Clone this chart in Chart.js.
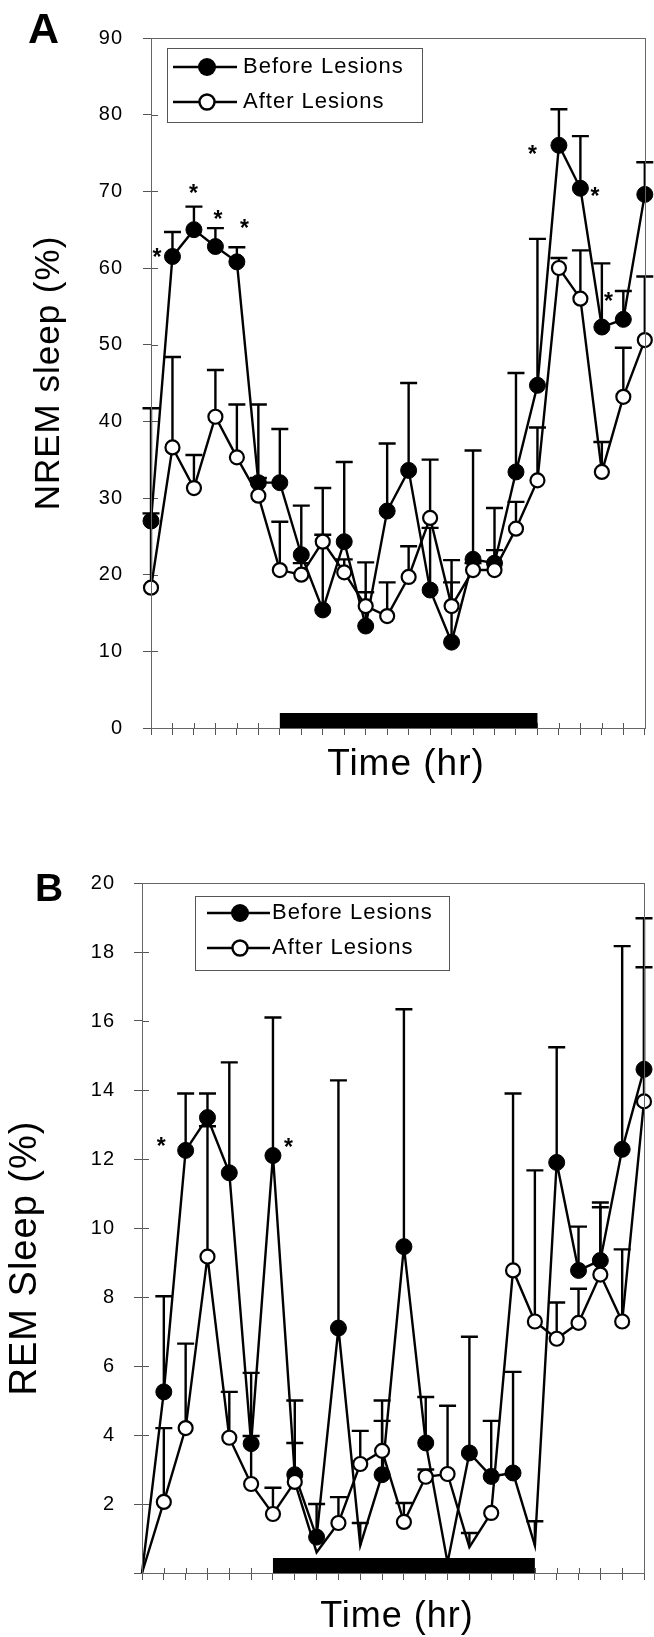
<!DOCTYPE html>
<html>
<head>
<meta charset="utf-8">
<script src="https://cdn.jsdelivr.net/npm/chart.js@4.4.1/dist/chart.umd.min.js"></script>
<style>
  html, body { margin: 0; padding: 0; background: #fff; }
  #wrap { position: relative; width: 654px; height: 1637px; }
  canvas { position: absolute; left: 0; }
  #chartA { top: 0; }
  #chartB { top: 800px; }
</style>
</head>
<body>
<div id="wrap">
  <canvas id="chartA" width="654" height="800"></canvas>
  <canvas id="chartB" width="654" height="837"></canvas>
</div>
<script>
// time points (hr)
const hours = [0, 1, 2, 3, 4, 5, 6, 7, 8, 9, 10, 11, 12, 13, 14, 15, 16, 17, 18, 19, 20, 21, 22, 23];
const darkPeriod = [6, 18];

// A - NREM sleep (%)
const nremBefore = [27, 61.5, 65, 62.8, 60.8, 32, 32, 22.6, 15.4, 24.3, 13.3, 28.3, 33.6, 18, 11.2, 22, 21.5, 33.4, 44.7, 76, 70.4, 52.3, 53.3, 69.6];
const nremAfter = [18.3, 36.6, 31.3, 40.6, 35.3, 30.3, 20.6, 20, 24.3, 20.3, 15.9, 14.6, 19.7, 27.4, 15.9, 20.6, 20.6, 26, 32.3, 60, 56, 33.4, 43.2, 50.6];
// upper end of the SEM bars
const nremBeforeErr = [28, 64.7, 68, 65.2, 62.7, 42.2, 39, 29, 31.3, 34.7, 17.7, 37.1, 45, 26.1, 19, 36.2, 23.2, 46.3, 63.8, 80.7, 77.2, 60.6, 57, 73.8];
const nremAfterErr = [41.7, 48.4, 35.6, 46.7, 42.2, 32.6, 26.9, 21.5, 25.2, 22, 21.6, 19, 23.7, 35, 21.9, 21.5, 28.7, 29.5, 39.2, 61.3, 62.3, 37.3, 49.6, 58.9];
const nremStars = [1, 2, 3, 4, 19, 20, 21];

// B - REM sleep (%)
const remBefore = [0, 5.25, 12.25, 13.2, 11.6, 3.75, 12.1, 2.85, 1.04, 7.1, 0.8, 2.85, 9.46, 3.77, 0.3, 3.48, 2.8, 2.9, 0.8, 11.9, 8.77, 9.06, 12.28, 14.6];
const remAfter = [0, 2.06, 4.2, 9.17, 3.92, 2.58, 1.71, 2.64, 0.6, 1.45, 3.16, 3.54, 1.48, 2.79, 2.87, 0.75, 1.74, 8.77, 7.29, 6.79, 7.25, 8.65, 7.29, 13.67];
const remBeforeErr = [null, 8.02, 13.9, 13.9, 14.8, 5.8, 16.1, 5.0, 2.0, 14.28, 1.45, 4.41, 16.34, 5.1, null, 6.85, 4.41, 5.83, 1.5, 15.24, 10.04, 10.74, 18.17, 18.98];
const remAfterErr = [null, 4.2, 6.65, 12.95, 5.25, 3.97, 2.47, 3.77, null, 2.2, 4.12, 5.0, 2.03, 3.0, 4.85, 1.16, null, 13.9, 11.67, 7.84, 8.24, 10.6, 9.38, 17.56];
const remStars = [2, 6];

// points drawn without a marker in B (line only)
const noMarkBefore = [0, 10, 14, 18];
const noMarkAfter = [0, 8, 15];

Chart.defaults.font.family = "'Liberation Sans', Arial, sans-serif";
Chart.defaults.color = '#000';

const FONT = "'Liberation Sans', Arial, sans-serif";

const panelPlugin = {
  id: 'panel',
  beforeDraw(chart) {
    chart.ctx.letterSpacing = '1px';
  },
  beforeDatasetsDraw(chart, args, opts) {
    const { ctx, chartArea: a, scales: { x, y } } = chart;
    ctx.save();
    // inner halves of the tick marks
    ctx.strokeStyle = '#555';
    ctx.lineWidth = 1;
    ctx.beginPath();
    x.ticks.forEach(t => {
      const px = Math.round(x.getPixelForValue(t.value)) + 0.5;
      ctx.moveTo(px, a.bottom); ctx.lineTo(px, a.bottom - 5);
    });
    y.ticks.forEach(t => {
      const py = Math.round(y.getPixelForValue(t.value)) + 0.5;
      ctx.moveTo(a.left, py); ctx.lineTo(a.left + 7, py);
    });
    ctx.stroke();

    // dark phase bar
    const x0 = x.getPixelForValue(darkPeriod[0]);
    const x1 = x.getPixelForValue(darkPeriod[1]);
    ctx.fillStyle = '#000';
    ctx.fillRect(x0, a.bottom - 15, x1 - x0, 15);

    // error bars (upper only)
    ctx.strokeStyle = '#000';
    ctx.lineWidth = 2.4;
    chart.data.datasets.forEach((ds, di) => {
      const meta = chart.getDatasetMeta(di);
      ds.errUp.forEach((e, i) => {
        if (e == null) return;
        const p = meta.data[i];
        const yt = y.getPixelForValue(e);
        ctx.beginPath();
        ctx.moveTo(p.x, p.y);
        ctx.lineTo(p.x, yt);
        ctx.moveTo(p.x - 8.5, yt);
        ctx.lineTo(p.x + 8.5, yt);
        ctx.stroke();
      });
    });
    ctx.restore();
  },
  afterDraw(chart, args, opts) {
    const { ctx, chartArea: a } = chart;
    ctx.save();
    ctx.letterSpacing = '1px';

    // frame
    ctx.strokeStyle = '#666';
    ctx.lineWidth = 1;
    ctx.strokeRect(Math.round(a.left) + 0.5, Math.round(a.top) + 0.5,
      Math.round(a.right - a.left), Math.round(a.bottom - a.top));

    // significance stars next to the "before" points
    const meta = chart.getDatasetMeta(0);
    ctx.fillStyle = '#000';
    ctx.font = 'bold 23px ' + FONT;
    ctx.textAlign = 'center';
    ctx.textBaseline = 'middle';
    opts.stars.forEach(i => {
      const p = meta.data[i];
      const [dx, dy] = opts.starOffsets[i];
      ctx.fillText('*', p.x + dx, p.y + dy + 5);
    });

    // axis titles
    ctx.font = opts.xTitle.size + 'px ' + FONT;
    ctx.fillText(opts.xTitle.text, opts.xTitle.x, opts.xTitle.y);
    ctx.save();
    ctx.translate(opts.yTitle.x, opts.yTitle.y);
    ctx.rotate(-Math.PI / 2);
    ctx.font = opts.yTitle.size + 'px ' + FONT;
    ctx.fillText(opts.yTitle.text, 0, 0);
    ctx.restore();

    // legend
    const lg = opts.legend;
    ctx.strokeStyle = '#555';
    ctx.lineWidth = 1;
    ctx.strokeRect(lg.x + 0.5, lg.y + 0.5, lg.w, lg.h);
    ctx.font = '22px ' + FONT;
    ctx.textAlign = 'left';
    chart.data.datasets.forEach((ds, di) => {
      const ry = lg.rows[di];
      ctx.strokeStyle = '#000';
      ctx.lineWidth = 2.4;
      ctx.beginPath();
      ctx.moveTo(lg.line[0], ry);
      ctx.lineTo(lg.line[1], ry);
      ctx.stroke();
      ctx.beginPath();
      if (di === 0) {
        ctx.arc(lg.mark, ry, 9, 0, Math.PI * 2);
        ctx.fillStyle = '#000';
        ctx.fill();
      } else {
        ctx.arc(lg.mark, ry, 7.5, 0, Math.PI * 2);
        ctx.fillStyle = '#fff';
        ctx.fill();
        ctx.stroke();
      }
      ctx.fillStyle = '#000';
      ctx.fillText(ds.label, lg.text, ry);
    });

    // panel letter
    ctx.font = 'bold ' + opts.letter.size + 'px ' + FONT;
    ctx.textAlign = 'left';
    ctx.textBaseline = 'alphabetic';
    ctx.letterSpacing = '0px';
    ctx.fillText(opts.letter.text, opts.letter.x, opts.letter.y);
    ctx.restore();
  }
};

function points(vals) {
  return hours.map((h, i) => ({ x: h, y: vals[i] }));
}

function makePanel(id, p) {
  return new Chart(document.getElementById(id), {
    type: 'line',
    data: {
      datasets: [
        {
          label: 'Before Lesions',
          data: points(p.before),
          errUp: p.beforeErr,
          borderColor: '#000',
          borderWidth: 2.4,
          pointBackgroundColor: '#000',
          pointBorderColor: '#000',
          pointBorderWidth: 1,
          pointRadius: c => (p.hideBefore.includes(c.dataIndex) ? 0 : 8),
          tension: 0,
          clip: false,
          order: 1
        },
        {
          label: 'After Lesions',
          data: points(p.after),
          errUp: p.afterErr,
          borderColor: '#000',
          borderWidth: 2.4,
          pointBackgroundColor: '#fff',
          pointBorderColor: '#000',
          pointBorderWidth: 2.2,
          pointRadius: c => (p.hideAfter.includes(c.dataIndex) ? 0 : 7),
          tension: 0,
          clip: false,
          order: 0
        }
      ]
    },
    options: {
      responsive: false,
      devicePixelRatio: 1,
      animation: false,
      events: [],
      layout: { padding: { left: 0, right: p.padRight, top: p.padTop, bottom: 0 } },
      plugins: {
        legend: { display: false },
        tooltip: { enabled: false },
        panel: {
          stars: p.stars,
          starOffsets: p.starOffsets,
          legend: p.legend,
          letter: p.letter,
          xTitle: p.xTitle,
          yTitle: p.yTitle
        }
      },
      scales: {
        x: {
          type: 'linear',
          min: 0,
          max: 23,
          ticks: { display: false, stepSize: 1 },
          grid: { drawOnChartArea: false, drawTicks: true, tickLength: 7, color: '#555' },
          border: { color: '#555' },
          afterFit: s => { s.height = p.xHeight; }
        },
        y: {
          type: 'linear',
          min: 0,
          max: p.yMax,
          ticks: {
            stepSize: p.yStep,
            color: '#000',
            font: { size: 20 },
            padding: p.yTickPad,
            callback: v => (p.hideZero && v === 0 ? '' : v)
          },
          grid: { drawOnChartArea: false, drawTicks: true, tickLength: 8, color: '#555' },
          border: { color: '#666' },
          afterFit: s => { s.width = p.yWidth; }
        }
      }
    },
    plugins: [panelPlugin]
  });
}

makePanel('chartA', {
  before: nremBefore, after: nremAfter,
  beforeErr: nremBeforeErr, afterErr: nremAfterErr,
  hideBefore: [], hideAfter: [],
  stars: nremStars,
  starOffsets: { 1: [-15, -3], 2: [0, -40], 3: [3, -31], 4: [8, -37], 19: [-26, 5], 20: [15, 4], 21: [7, -29] },
  yMax: 90, yStep: 10, hideZero: false,
  yTickPad: 20, yWidth: 151,
  xHeight: 72,
  padTop: 38, padRight: 5,
  xTitle: { text: 'Time (hr)', size: 37, x: 406, y: 765 },
  yTitle: { text: 'NREM sleep (%)', size: 35, x: 49, y: 373 },
  legend: { x: 167, y: 48, w: 255, h: 74, rows: [67, 102], line: [173, 237], mark: 207, text: 243 },
  letter: { text: 'A', size: 43, x: 28, y: 43 }
});

makePanel('chartB', {
  before: remBefore, after: remAfter,
  beforeErr: remBeforeErr, afterErr: remAfterErr,
  hideBefore: noMarkBefore, hideAfter: noMarkAfter,
  stars: remStars,
  starOffsets: { 2: [-24, -8], 6: [16, -12] },
  yMax: 20, yStep: 2, hideZero: true,
  yTickPad: 19, yWidth: 142,
  xHeight: 64,
  padTop: 83, padRight: 10,
  xTitle: { text: 'Time (hr)', size: 36, x: 397, y: 817 },
  yTitle: { text: 'REM Sleep (%)', size: 38, x: 26, y: 458 },
  legend: { x: 195, y: 96, w: 254, h: 74, rows: [113, 148], line: [207, 270], mark: 240, text: 272 },
  letter: { text: 'B', size: 39, x: 35, y: 101 }
});
</script>
</body>
</html>
